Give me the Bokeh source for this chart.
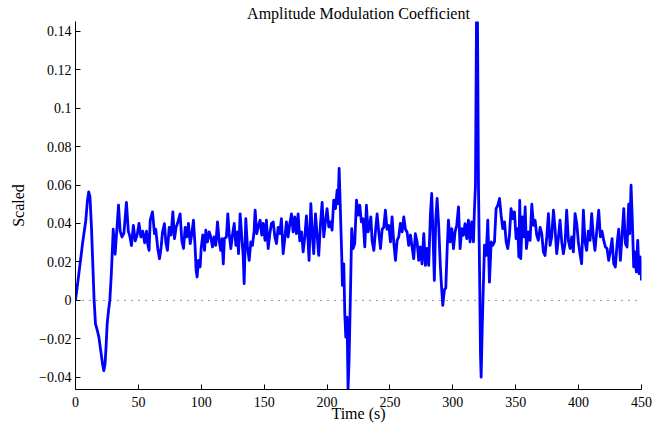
from bokeh.plotting import figure
from bokeh.models import Range1d, FixedTicker, Span
from bokeh.embed import file_html
from bokeh.resources import INLINE

title_text = "Amplitude Modulation Coefficient"
x_label = "Time (s)"
y_label = "Scaled"

time_s = [
    0.0, 2.5, 5.6, 8.2, 9.5, 10.5, 11.5, 12.7, 13.8, 14.8, 15.9, 17.5, 18.6, 20.4, 21.5, 22.5, 23.5, 24.3,
    25.2, 26.3, 27.3, 28.5, 30.0, 31.5, 33.0, 34.2, 35.5, 37.0, 38.5, 40.5, 42.0, 43.3, 44.5, 46.0, 47.5,
    49.0, 50.5, 52.0, 53.5, 55.0, 56.5, 57.5, 58.5, 59.4, 61.2, 62.8, 63.8, 65.4, 66.8, 68.1, 69.2, 70.7,
    71.8, 73.1, 74.5, 76.0, 77.4, 78.7, 80.0, 81.4, 83.2, 84.5, 85.9, 87.2, 88.5, 89.8, 91.2, 92.5, 93.8,
    95.1, 95.9, 96.7, 97.8, 99.1, 99.9, 101.2, 102.6, 103.6, 104.9, 106.3, 107.6, 108.9, 110.2, 111.5,
    112.9, 114.2, 115.5, 116.5, 117.5, 118.4, 120.0, 121.1, 122.2, 123.5, 124.8, 126.2, 127.5, 128.8,
    129.6, 130.9, 132.2, 133.3, 134.1, 135.4, 136.7, 138.1, 139.4, 140.7, 142.0, 142.8, 144.1, 145.5,
    146.8, 148.1, 149.2, 150.7, 151.8, 153.2, 154.5, 155.8, 157.2, 158.5, 159.8, 161.1, 162.4, 163.7,
    165.1, 166.4, 167.7, 169.0, 170.4, 171.7, 173.0, 174.3, 175.6, 177.0, 178.3, 179.7, 181.0, 182.3,
    183.6, 184.9, 185.7, 187.1, 188.4, 189.4, 190.8, 192.1, 193.4, 194.7, 196.1, 197.4, 198.7, 200.0,
    201.4, 202.7, 204.0, 205.3, 206.7, 208.0, 208.8, 209.6, 210.6, 211.7, 212.2, 213.3, 214.1, 214.9,
    215.9, 216.7, 217.5, 218.6, 219.6, 220.7, 222.0, 223.4, 224.7, 226.0, 227.3, 228.6, 230.0, 231.3,
    232.6, 233.9, 234.8, 235.8, 237.2, 238.5, 239.8, 241.1, 242.5, 243.8, 245.1, 246.4, 247.7, 249.1,
    250.4, 251.7, 253.0, 254.4, 255.7, 257.0, 258.3, 259.7, 261.0, 262.3, 263.6, 264.9, 266.3, 267.6,
    268.9, 270.2, 271.6, 272.9, 274.2, 275.5, 276.9, 278.2, 279.5, 280.8, 282.2, 283.2, 284.3, 285.3,
    286.4, 287.5, 288.8, 290.1, 291.2, 292.0, 293.3, 294.4, 295.5, 296.5, 297.8, 299.2, 300.5, 301.8,
    303.1, 304.5, 305.8, 307.1, 308.4, 309.7, 311.1, 312.4, 313.7, 315.0, 316.4, 317.2, 318.0, 318.8,
    319.6, 320.4, 321.2, 322.0, 322.5, 323.3, 324.1, 325.2, 326.5, 327.8, 329.1, 330.5, 331.8, 333.1,
    334.4, 335.8, 337.1, 338.4, 339.7, 341.1, 342.4, 343.7, 345.0, 346.3, 347.7, 349.0, 350.3, 351.6,
    352.5, 353.2, 354.0, 355.3, 356.7, 357.5, 358.5, 360.1, 361.4, 362.8, 364.1, 365.4, 366.7, 368.0,
    369.4, 370.7, 372.0, 373.3, 374.7, 376.0, 377.3, 378.6, 380.0, 381.3, 382.6, 383.9, 385.2, 386.6,
    387.9, 389.2, 390.5, 391.9, 393.2, 394.5, 395.8, 397.2, 398.5, 399.8, 401.1, 402.4, 403.8, 405.1,
    406.4, 407.7, 409.1, 410.4, 411.7, 413.0, 414.7, 416.0, 417.3, 418.6, 420.0, 421.3, 422.6, 423.9,
    425.3, 426.6, 427.9, 429.2, 430.6, 431.9, 433.2, 434.5, 435.9, 437.2, 438.5, 439.8, 440.6, 441.7,
    442.7, 443.8, 444.9, 445.9, 447.0, 448.1, 449.1, 450.0,
]

amplitude = [
    0.000, 0.013, 0.0295, 0.0417, 0.052, 0.0564, 0.054, 0.038, 0.018, 0.000, -0.0122, -0.016, -0.0191,
    -0.0278, -0.033, -0.0365, -0.033, -0.024, -0.012, -0.005, 0.000, 0.014, 0.037, 0.024, 0.038, 0.0495,
    0.036, 0.033, 0.035, 0.051, 0.036, 0.033, 0.0285, 0.039, 0.031, 0.034, 0.040, 0.033, 0.036, 0.030,
    0.036, 0.029, 0.026, 0.0417, 0.046, 0.0347, 0.037, 0.027, 0.0217, 0.0278, 0.0356, 0.0399, 0.0304,
    0.026, 0.038, 0.034, 0.046, 0.0321, 0.038, 0.0408, 0.045, 0.0312, 0.027, 0.038, 0.033, 0.040, 0.0295,
    0.0347, 0.0417, 0.0278, 0.0156, 0.0122, 0.0208, 0.0174, 0.027, 0.034, 0.026, 0.0365, 0.0304, 0.0356,
    0.033, 0.0278, 0.033, 0.0286, 0.0408, 0.0312, 0.026, 0.0321, 0.019, 0.0321, 0.033, 0.045, 0.0347,
    0.027, 0.034, 0.040, 0.0286, 0.0356, 0.0243, 0.045, 0.033, 0.0234, 0.0087, 0.0425, 0.0278, 0.0208,
    0.0304, 0.0286, 0.036, 0.0469, 0.0347, 0.039, 0.0417, 0.034, 0.040, 0.0312, 0.0417, 0.027, 0.0347,
    0.040, 0.0408, 0.033, 0.0295, 0.038, 0.0347, 0.0425, 0.0243, 0.0321, 0.0408, 0.033, 0.040, 0.045,
    0.0356, 0.0434, 0.0347, 0.045, 0.031, 0.0356, 0.0252, 0.033, 0.044, 0.031, 0.0208, 0.0503, 0.033,
    0.0243, 0.045, 0.0339, 0.0234, 0.0391, 0.051, 0.033, 0.0408, 0.0477, 0.0382, 0.0408, 0.0365, 0.0521,
    0.0477, 0.0573, 0.0503, 0.0686, 0.0469, 0.0226, 0.0078, 0.019, -0.0069, -0.0191, -0.0087, -0.0463,
    -0.0312, 0.0035, 0.0373, 0.0269, 0.0295, 0.0521, 0.0443, 0.0495, 0.0408, 0.0425, 0.0278, 0.0495,
    0.0356, 0.0391, 0.0434, 0.0312, 0.026, 0.036, 0.045, 0.0356, 0.027, 0.037, 0.038, 0.0469, 0.037,
    0.039, 0.0304, 0.0434, 0.0304, 0.0208, 0.0312, 0.033, 0.040, 0.0356, 0.0434, 0.037, 0.0356, 0.0286,
    0.034, 0.0278, 0.0217, 0.0347, 0.0304, 0.0208, 0.0278, 0.019, 0.0347, 0.0182, 0.027, 0.0182, 0.045,
    0.0556, 0.033, 0.0104, 0.0417, 0.053, 0.0382, 0.0174, 0.0052, -0.0026, 0.0055, 0.0065, 0.0269,
    0.0417, 0.0304, 0.0373, 0.0269, 0.0356, 0.0391, 0.0486, 0.0269, 0.0373, 0.0339, 0.0399, 0.0321,
    0.0417, 0.0304, 0.0408, 0.0304, 0.0477, 0.0599, 0.1450, 0.1450, 0.0582, 0.0182, -0.0286, -0.0399,
    -0.0165, 0.0043, 0.0287, 0.0234, 0.0417, 0.0095, 0.0304, 0.0287, 0.0304, 0.0477, 0.0495, 0.053,
    0.0443, 0.0373, 0.0408, 0.0304, 0.0269, 0.0339, 0.0477, 0.0425, 0.046, 0.0321, 0.0373, 0.0226,
    0.052, 0.0217, 0.0434, 0.033, 0.0486, 0.027, 0.0356, 0.0312, 0.050, 0.039, 0.0417, 0.034, 0.0312,
    0.038, 0.0347, 0.0252, 0.0234, 0.033, 0.0451, 0.0286, 0.033, 0.0469, 0.037, 0.0243, 0.0321, 0.0417,
    0.0304, 0.0243, 0.0295, 0.0469, 0.0312, 0.027, 0.033, 0.0252, 0.0451, 0.040, 0.0304, 0.0243, 0.0191,
    0.0469, 0.0304, 0.026, 0.036, 0.0312, 0.0451, 0.033, 0.026, 0.038, 0.0469, 0.033, 0.036, 0.0312,
    0.0278, 0.027, 0.0208, 0.026, 0.0321, 0.0191, 0.0174, 0.0295, 0.037, 0.0208, 0.033, 0.0477, 0.0295,
    0.0278, 0.050, 0.0347, 0.0599, 0.0417, 0.0174, 0.0252, 0.0148, 0.0312, 0.0139, 0.0226, 0.0104,
]

x_ticks = [0, 50, 100, 150, 200, 250, 300, 350, 400, 450]
y_ticks = [-0.04, -0.02, 0.0, 0.02, 0.04, 0.06, 0.08, 0.1, 0.12, 0.14]
y_tick_labels = ["\u22120.04", "\u22120.02", "0", "0.02", "0.04", "0.06", "0.08", "0.1", "0.12", "0.14"]

x_min, x_max = 0, 450
y_min, y_max = -0.0463, 0.1450

FONT = "Liberation Serif"
FSIZE = "16px"
TICK_FSIZE = "14px"

p = figure(
    width=665, height=424, output_backend="svg", toolbar_location=None,
    x_range=Range1d(x_min, x_max), y_range=Range1d(y_min, y_max),
    min_border_left=75, min_border_right=24, min_border_top=21, min_border_bottom=35,
)
p.outline_line_color = None
p.grid.visible = False
p.background_fill_color = "white"
p.border_fill_color = "white"

p.title.text = title_text
p.title.align = "center"
p.title.text_font = FONT
p.title.text_font_size = FSIZE
p.title.text_font_style = "normal"
p.title.text_color = "black"
p.title.standoff = 0
p.title.offset = 0

xax = p.xaxis[0]
yax = p.yaxis[0]
xax.ticker = FixedTicker(ticks=x_ticks)
yax.ticker = FixedTicker(ticks=y_ticks)
yax.major_label_overrides = {v: s for v, s in zip(y_ticks, y_tick_labels)}
for ax in (xax, yax):
    ax.major_tick_in = 5
    ax.major_tick_out = 0
    ax.minor_tick_in = 0
    ax.minor_tick_out = 0
    ax.axis_line_color = "black"
    ax.major_tick_line_color = "black"
    ax.major_label_text_font = FONT
    ax.major_label_text_font_size = TICK_FSIZE
    ax.major_label_text_font_style = "normal"
    ax.major_label_text_color = "black"
    ax.axis_label_text_font = FONT
    ax.axis_label_text_font_size = FSIZE
    ax.axis_label_text_font_style = "normal"
    ax.axis_label_text_color = "black"
xax.major_label_standoff = 7
yax.major_label_standoff = 4
xax.axis_label = x_label
yax.axis_label = y_label
xax.axis_label_standoff = -5
yax.axis_label_standoff = 9

zero_line = Span(location=0, dimension="width", line_color="#333333",
                 line_dash="1 6", line_width=1)
p.add_layout(zero_line)

p.line(time_s, amplitude, line_color="#0000ff", line_width=2.8, line_join="round")

open("out.html", "w").write(file_html(p, INLINE))
